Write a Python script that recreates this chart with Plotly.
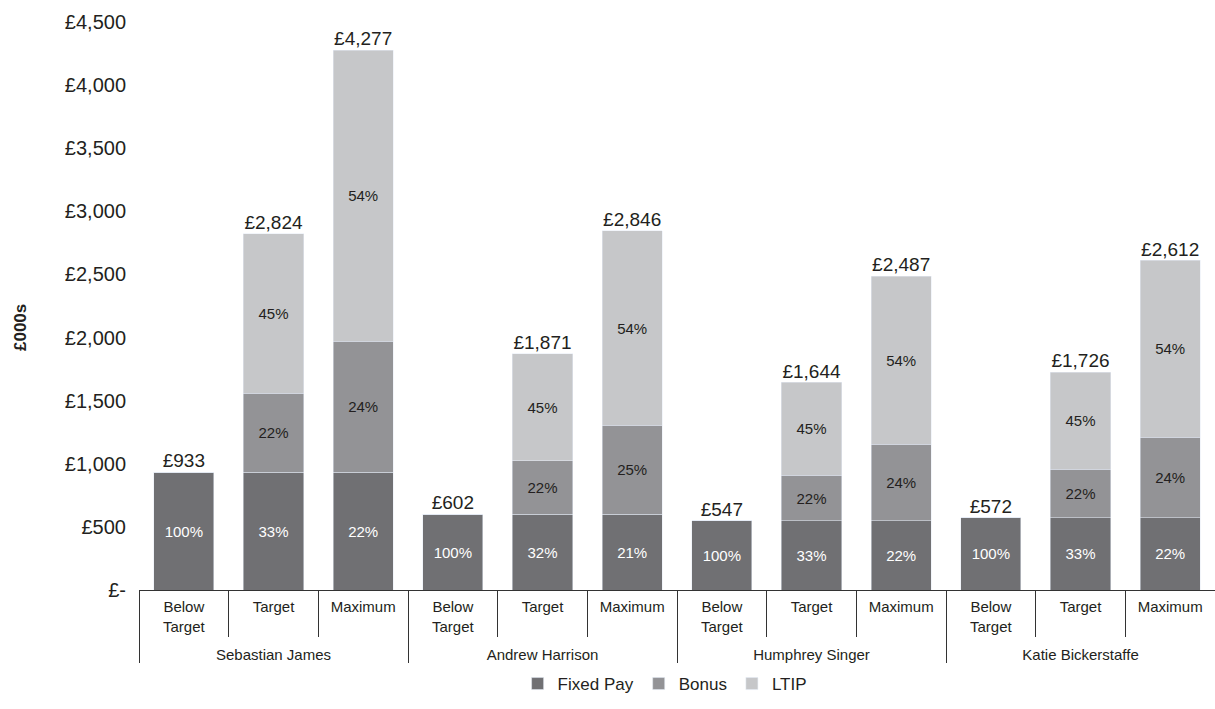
import plotly.graph_objects as go

people = ["Sebastian James", "Andrew Harrison", "Humphrey Singer", "Katie Bickerstaffe"]
scenarios = ["Below<br>Target", "Target", "Maximum"]

fixed_pay = [933, 933, 933, 602, 602, 602, 547, 547, 547, 572, 572, 572]
bonus = [0, 627, 1037, 0, 423, 703, 0, 363, 608, 0, 383, 638]
ltip = [0, 1264, 2307, 0, 846, 1541, 0, 734, 1332, 0, 771, 1402]
totals = [933, 2824, 4277, 602, 1871, 2846, 547, 1644, 2487, 572, 1726, 2612]

fixed_pct = ["100%", "33%", "22%", "100%", "32%", "21%", "100%", "33%", "22%", "100%", "33%", "22%"]
bonus_pct = ["", "22%", "24%", "", "22%", "25%", "", "22%", "24%", "", "22%", "24%"]
ltip_pct = ["", "45%", "54%", "", "45%", "54%", "", "45%", "54%", "", "45%", "54%"]

y_tickvals = [0, 500, 1000, 1500, 2000, 2500, 3000, 3500, 4000, 4500]
y_ticktext = ["£-", "£500", "£1,000", "£1,500", "£2,000", "£2,500", "£3,000", "£3,500", "£4,000", "£4,500"]

# a tall invisible spacer on the first label line pushes the name row down a little
SPACER = "<span style='font-size:29px'>&nbsp;</span>"


def level_label(s):
    if "<br>" in s:
        first, rest = s.split("<br>", 1)
        return SPACER + first + SPACER + "<br>" + rest
    return s


x_groups = [p for p in people for _ in scenarios]
x_levels = [level_label(s) for _ in people for s in scenarios]
x = [x_groups, x_levels]

FONT = "Liberation Sans, Arial, sans-serif"
TXT = "#231f20"

fig = go.Figure()
fig.add_trace(go.Bar(x=x, y=fixed_pay, name="Fixed Pay", marker_color="#707073",
                     text=fixed_pct, textposition="inside", insidetextanchor="middle",
                     textangle=0, textfont=dict(color="white", size=15, family=FONT)))
fig.add_trace(go.Bar(x=x, y=bonus, name="Bonus", marker_color="#939396",
                     text=bonus_pct, textposition="inside", insidetextanchor="middle",
                     textangle=0, textfont=dict(color=TXT, size=15, family=FONT)))
fig.add_trace(go.Bar(x=x, y=ltip, name="LTIP", marker_color="#c6c7c9",
                     text=ltip_pct, textposition="inside", insidetextanchor="middle",
                     textangle=0, textfont=dict(color=TXT, size=15, family=FONT)))
fig.add_trace(go.Scatter(x=x, y=totals, mode="text",
                         text=["£{:,}".format(v) for v in totals],
                         textposition="top center",
                         textfont=dict(size=19, color=TXT, family=FONT),
                         showlegend=False, hoverinfo="skip"))

fig.update_layout(
    width=1215, height=709,
    barmode="stack", bargap=0.33,
    plot_bgcolor="white", paper_bgcolor="white",
    margin=dict(l=139, r=0, t=22, b=119, autoexpand=False),
    font=dict(family=FONT, color=TXT, size=15),
    legend=dict(orientation="h", xref="container", yref="container",
                x=0.547, xanchor="center", y=1 - 684 / 709, yanchor="middle",
                font=dict(size=17, color=TXT), traceorder="normal",
                itemwidth=30, tracegroupgap=0, bgcolor="rgba(0,0,0,0)"),
    xaxis=dict(type="multicategory", range=[-0.5, 11.5],
               showline=True, linecolor="#333333", linewidth=1,
               ticks="outside", tickson="boundaries", ticklen=46, tickcolor="#333333",
               showdividers=True, dividercolor="#333333", dividerwidth=1,
               tickfont=dict(size=15, color=TXT), showgrid=False,
               automargin=False, ticklabelstandoff=3),
    yaxis=dict(range=[0, 4500], tickvals=y_tickvals, ticktext=y_ticktext,
               showgrid=False, zeroline=False, showline=False, automargin=False,
               tickfont=dict(size=20, color=TXT), ticklabelstandoff=12),
    annotations=[dict(text="<b>£000s</b>", xref="paper", yref="paper",
                      x=(20 - 139) / 1076, y=(590 - 328) / 568, textangle=-90,
                      xanchor="center", yanchor="middle",
                      showarrow=False, font=dict(size=17, color=TXT))],
)

fig.write_html("out.html")
